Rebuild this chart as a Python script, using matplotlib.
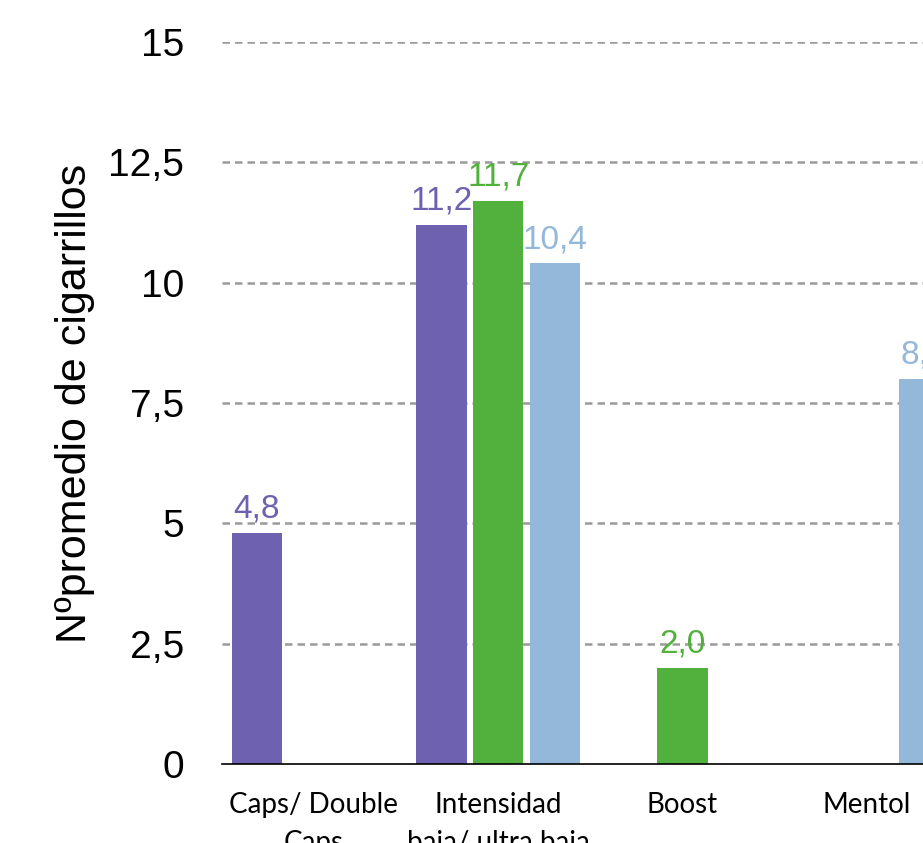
import matplotlib

matplotlib.use("Agg")
import matplotlib.pyplot as plt
import numpy as np

categories = ["Caps/ Double\nCaps", "Intensidad\nbaja/ ultra baja", "Boost", "Mentol"]
series_names = ["Serie 1", "Serie 2", "Serie 3"]
series_values = [
    [4.8, 11.2, np.nan, np.nan],
    [np.nan, 11.7, 2.0, np.nan],
    [np.nan, 10.4, np.nan, 8.0],
]
series_colors = ["#6e62b0", "#52b03c", "#94b8d9"]
yticks = [0, 2.5, 5, 7.5, 10, 12.5, 15]

fig = plt.figure(figsize=(9.23, 8.43), dpi=100)
# axes runs past the right edge, as in the cropped original
ax = fig.add_axes([0.2403, 0.0937, 0.7987, 0.8565])

x = np.arange(len(categories))
width = 0.274
step = 0.309
for idx, (name, vals, color) in enumerate(zip(series_names, series_values, series_colors)):
    offset = (idx - 1) * step
    vals = np.array(vals, dtype=float)
    ax.bar(x + offset, vals, width=width, color=color, label=name, zorder=3)
    for xi, v in zip(x + offset, vals):
        if np.isnan(v):
            continue
        ax.annotate(f"{v:.1f}".replace(".", ","), (xi, v), xytext=(0, 6),
                    textcoords="offset points", ha="center", va="bottom",
                    color=color, fontsize=24, family="Liberation Sans", zorder=4)

ax.set_xlim(-0.5, len(categories) - 0.5)
ax.set_ylim(0, 15)
ax.set_yticks(yticks)
ax.set_yticklabels([f"{t:g}".replace(".", ",") for t in yticks],
                   fontsize=28, family="Liberation Sans")
ax.set_xticks(x)
ax.set_xticklabels(categories, fontsize=20, family="Lato", linespacing=1.6)
ax.tick_params(axis="y", length=0, pad=27)
ax.tick_params(axis="x", length=0, pad=20)

for t in yticks[1:]:
    ax.axhline(t, color="#9a9a9a", linestyle=(0, (3, 2)), linewidth=1.8, zorder=1)

for side in ["top", "right", "left"]:
    ax.spines[side].set_visible(False)
ax.spines["bottom"].set_linewidth(1.2)
ax.spines["bottom"].set_zorder(5)

ax.set_ylabel("Nºpromedio de cigarrillos", fontsize=31, family="Liberation Sans",
              labelpad=10)

fig.savefig("out.png", dpi=100)
plt.close(fig)
